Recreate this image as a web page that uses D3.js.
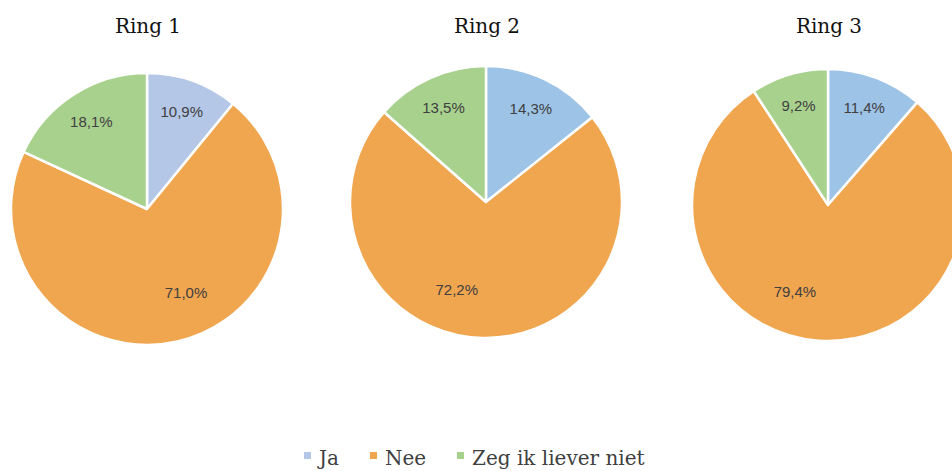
<!DOCTYPE html>
<html>
<head>
<meta charset="utf-8">
<script src="https://cdn.jsdelivr.net/npm/d3@7"></script>
<style>
  body { margin: 0; background: #fff; }
</style>
</head>
<body>
<div id="chart"></div>
<script>
const rings = ["Ring 1", "Ring 2", "Ring 3"];
const categories = ["Ja", "Nee", "Zeg ik liever niet"];
const ring1 = [10.9, 71.0, 18.1];
const ring2 = [14.3, 72.2, 13.5];
const ring3 = [11.4, 79.4, 9.2];
const seriesValues = [ring1, ring2, ring3];

const width = 952, height = 471;
const radius = 136;
const centers = [{ x: 147, y: 209 }, { x: 486, y: 202 }, { x: 828, y: 205 }];
// Ja colour is a bit lighter in the first ring
const jaColors = ["#b4c7e7", "#9dc3e6", "#9dc3e6"];
const otherColors = { "Nee": "#f0a54f", "Zeg ik liever niet": "#a9d18e" };
// Excel nudges the big label off its mid-angle
const bigLabelNudge = [-12, 17, 17];

const svg = d3.select("#chart").append("svg")
  .attr("width", width).attr("height", height);

const pie = d3.pie().sort(null).value(d => d.value);
const arc = d3.arc().innerRadius(0).outerRadius(radius);

seriesValues.forEach((vals, ri) => {
  const data = categories.map((c, i) => ({ cat: c, value: vals[i] }));
  const g = svg.append("g")
    .attr("transform", `translate(${centers[ri].x},${centers[ri].y})`);

  const color = d => d.data.cat === "Ja" ? jaColors[ri] : otherColors[d.data.cat];
  const arcs = pie(data);

  g.selectAll("path").data(arcs).enter().append("path")
    .attr("d", arc)
    .attr("fill", color)
    .attr("stroke", "#fff")
    .attr("stroke-width", 2.5)
    .attr("stroke-linejoin", "round");

  g.selectAll("text.lbl").data(arcs).enter().append("text")
    .attr("class", "lbl")
    .attr("transform", d => {
      let a = (d.startAngle + d.endAngle) / 2;
      let r = radius * 0.76;
      if (d.data.cat === "Nee") {
        a += bigLabelNudge[ri] * Math.PI / 180;
        r = radius * 0.68;
      }
      return `translate(${Math.sin(a) * r},${-Math.cos(a) * r})`;
    })
    .attr("text-anchor", "middle")
    .attr("dy", "0.35em")
    .style("font-family", "'Liberation Sans', Arial, sans-serif")
    .style("font-size", "15px")
    .attr("fill", "#404040")
    .text(d => d3.format(".1f")(d.data.value).replace(".", ",") + "%");

  svg.append("text")
    .attr("x", centers[ri].x + 1)
    .attr("y", 33)
    .attr("text-anchor", "middle")
    .style("font-family", "'DejaVu Serif', serif")
    .style("font-size", "20px")
    .attr("fill", "#111")
    .text(rings[ri]);
});

// ---- Legend ----
const legendX = [304, 370, 457];
const legend = svg.append("g")
  .style("font-family", "'DejaVu Serif', serif")
  .style("font-size", "20px");
categories.forEach((c, i) => {
  legend.append("rect")
    .attr("x", legendX[i]).attr("y", 452)
    .attr("width", 7).attr("height", 7)
    .attr("fill", c === "Ja" ? jaColors[0] : otherColors[c]);
  legend.append("text")
    .attr("x", legendX[i] + 15).attr("y", 465)
    .attr("fill", "#404040")
    .text(c);
});
</script>
</body>
</html>
